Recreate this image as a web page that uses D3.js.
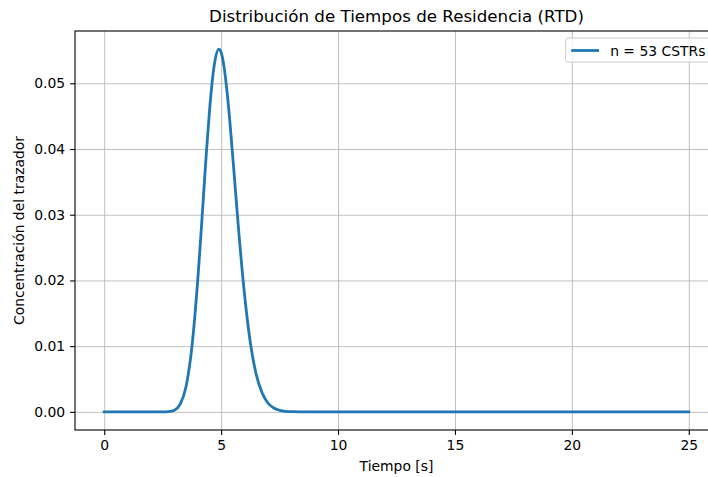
<!DOCTYPE html>
<html>
<head>
<meta charset="utf-8">
<script src="https://cdn.jsdelivr.net/npm/d3@7"></script>
<style>
  html, body {
    margin: 0;
    padding: 0;
    background: #fff;
  }
  svg {
    display: block;
    font-family: 'DejaVu Sans', sans-serif;
  }
  .grid line {
    stroke: #b0b0b0;
    stroke-width: 0.8;
  }
  .grid .domain {
    display: none;
  }
</style>
</head>
<body>
<div id="chart"></div>
<script>
// tiempo [s] y concentración
const tiempo = [0, 1, 2, 2.5, 2.75, 3, 3.25, 3.5, 3.75, 4, 4.125, 4.25, 4.375, 4.5, 4.625, 4.75, 4.9, 5, 5.125, 5.25, 5.375, 5.5, 5.625, 5.75, 6, 6.25, 6.5, 6.75, 7, 7.25, 7.5, 7.75, 8, 8.5, 9, 10, 15, 20, 25]
const concentracion = [0, 0, 0, 0.000004, 0.00004, 0.00026, 0.00116, 0.00386, 0.0099, 0.0201, 0.0264, 0.0331, 0.0398, 0.0457, 0.0505, 0.0537, 0.0552, 0.0547, 0.0525, 0.0488, 0.0441, 0.0387, 0.0331, 0.0276, 0.0179, 0.0105, 0.0057, 0.0029, 0.00135, 0.00059, 0.00024, 0.00009, 0.00004, 0.00001, 0, 0, 0, 0, 0]
const xTicks = [0, 5, 10, 15, 20, 25]
const yTicks = [0, 0.01, 0.02, 0.03, 0.04, 0.05]
const serieNombre = 'n = 53 CSTRs'

const width = 708
const height = 477
const margin = { top: 31, right: -10, bottom: 47, left: 75 }
const innerW = width - margin.left - margin.right
const innerH = height - margin.top - margin.bottom
const color = '#1f77b4'

const data = tiempo.map((t, i) => ({ t, c: concentracion[i] }))

const svg = d3
  .select('#chart')
  .append('svg')
  .attr('width', width)
  .attr('height', height)
  .attr('viewBox', `0 0 ${width} ${height}`)

const g = svg.append('g').attr('transform', `translate(${margin.left},${margin.top})`)

// matplotlib style margins (5%)
const xPad = (d3.max(tiempo) - d3.min(tiempo)) * 0.05
const yPad = (d3.max(concentracion) - d3.min(concentracion)) * 0.05

const x = d3
  .scaleLinear()
  .domain([d3.min(tiempo) - xPad, d3.max(tiempo) + xPad])
  .range([0, innerW])

const y = d3
  .scaleLinear()
  .domain([d3.min(concentracion) - yPad, d3.max(concentracion) + yPad])
  .range([innerH, 0])

// grid
g.append('g')
  .attr('class', 'grid')
  .attr('transform', `translate(0,${innerH})`)
  .call(d3.axisBottom(x).tickValues(xTicks).tickSize(-innerH).tickFormat(''))

g.append('g')
  .attr('class', 'grid')
  .call(d3.axisLeft(y).tickValues(yTicks).tickSize(-innerW).tickFormat(''))

// curve
g.append('clipPath')
  .attr('id', 'clip')
  .append('rect')
  .attr('width', innerW)
  .attr('height', innerH)

const line = d3
  .line()
  .x((d) => x(d.t))
  .y((d) => y(d.c))
  .curve(d3.curveMonotoneX)

g.append('path')
  .datum(data)
  .attr('clip-path', 'url(#clip)')
  .attr('fill', 'none')
  .attr('stroke', color)
  .attr('stroke-width', 2.8)
  .attr('stroke-linejoin', 'round')
  .attr('stroke-linecap', 'square')
  .attr('d', line)

// axes
const xAxis = g
  .append('g')
  .attr('transform', `translate(0,${innerH})`)
  .call(d3.axisBottom(x).tickValues(xTicks).tickSize(4.9).tickPadding(4.9).tickFormat(d3.format('d')))

const yAxis = g
  .append('g')
  .call(d3.axisLeft(y).tickValues(yTicks).tickSize(4.9).tickPadding(4.9).tickFormat(d3.format('.2f')))

;[xAxis, yAxis].forEach((a) => {
  a.selectAll('.domain').remove()
  a.selectAll('.tick line').attr('stroke', '#000').attr('stroke-width', 1.1)
  a.selectAll('text')
    .attr('fill', '#000')
    .style('font-size', '13.9px')
    .style('font-family', "'DejaVu Sans', sans-serif")
})

// spines
g.append('rect')
  .attr('width', innerW)
  .attr('height', innerH)
  .attr('fill', 'none')
  .attr('stroke', '#000')
  .attr('stroke-width', 1.1)

// labels
svg.append('text')
  .attr('x', margin.left + innerW / 2)
  .attr('y', 22)
  .attr('text-anchor', 'middle')
  .style('font-size', '16.7px')
  .text('Distribución de Tiempos de Residencia (RTD)')

svg.append('text')
  .attr('x', margin.left + innerW / 2)
  .attr('y', 471)
  .attr('text-anchor', 'middle')
  .style('font-size', '13.9px')
  .text('Tiempo [s]')

svg.append('text')
  .attr('transform', `translate(18.5,${margin.top + innerH / 2}) rotate(-90)`)
  .attr('text-anchor', 'middle')
  .attr('dominant-baseline', 'central')
  .style('font-size', '13.9px')
  .text('Concentración del trazador')

// legend
const legend = svg.append('g').attr('transform', `translate(${margin.left + innerW - 7},${margin.top + 7})`)
const legendText = legend
  .append('text')
  .attr('y', 17.6)
  .style('font-size', '13.9px')
  .text(serieNombre)
const textW = legendText.node().getComputedTextLength()
const boxW = 5.6 + 27.8 + 11.1 + textW + 5.6
legend.insert('rect', 'text')
  .attr('x', -boxW)
  .attr('y', 0)
  .attr('width', boxW)
  .attr('height', 24)
  .attr('rx', 2.5)
  .attr('fill', '#fff')
  .attr('fill-opacity', 0.8)
  .attr('stroke', '#cccccc')
  .attr('stroke-width', 1)
legendText.attr('x', -boxW + 5.6 + 27.8 + 11.1)
legend.append('line')
  .attr('x1', -boxW + 5.6)
  .attr('x2', -boxW + 5.6 + 27.8)
  .attr('y1', 12.5)
  .attr('y2', 12.5)
  .attr('stroke', color)
  .attr('stroke-width', 2.8)
</script>
</body>
</html>
